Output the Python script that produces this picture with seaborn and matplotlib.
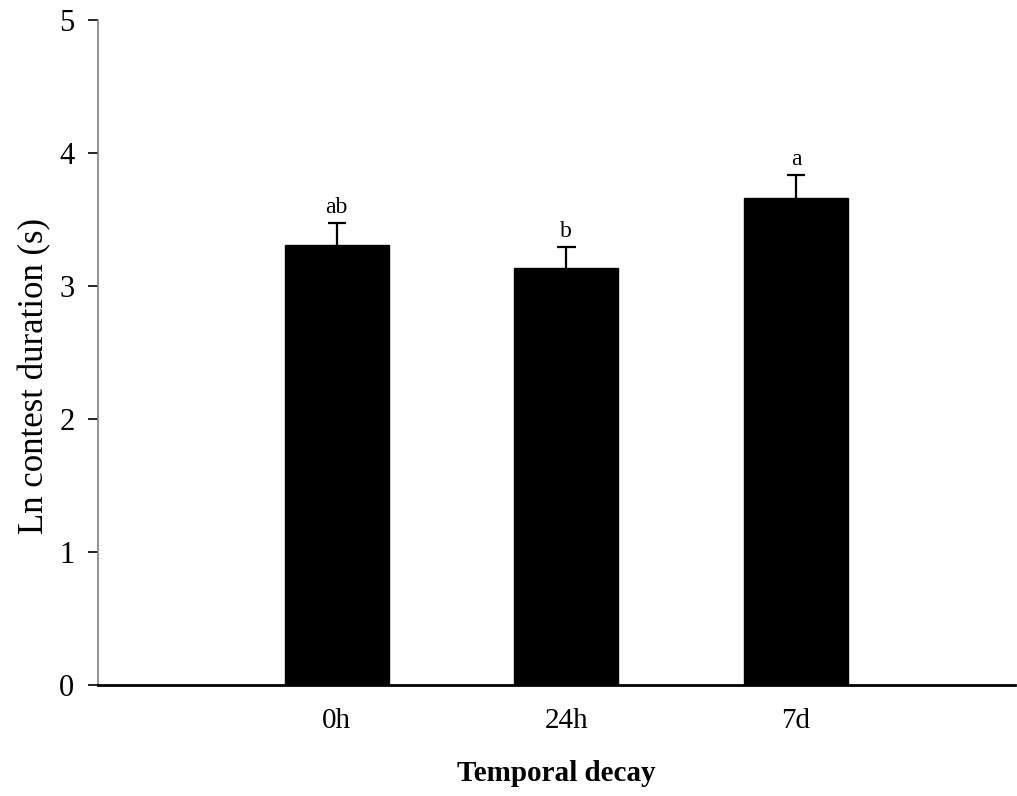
import matplotlib
matplotlib.use("Agg")
import matplotlib.pyplot as plt
import seaborn as sns
import pandas as pd

categories = ["0h", "24h", "7d"]
means = [3.31, 3.135, 3.665]
errors = [0.165, 0.155, 0.17]
letters = ["ab", "b", "a"]

sns.set_style("white")
plt.rcParams['font.family'] = ['Liberation Serif', 'DejaVu Serif']
plt.rcParams['text.color'] = 'black'
plt.rcParams['axes.labelcolor'] = 'black'
plt.rcParams['xtick.color'] = 'black'
plt.rcParams['ytick.color'] = 'black'

df = pd.DataFrame({"group": categories, "value": means})

fig = plt.figure(figsize=(10.17, 7.96), dpi=100)
ax = fig.add_axes([0.0964, 0.1394, 0.9016, 0.8355])

sns.barplot(data=df, x="group", y="value", order=categories, color="black",
            width=0.453, saturation=1, ax=ax, errorbar=None, edgecolor="black",
            zorder=2)

xs = list(range(len(categories)))
tops = [m + e for m, e in zip(means, errors)]
cap_half = 0.04
ax.vlines(xs, means, tops, color="black", linewidth=1.6, zorder=1)
ax.hlines(tops, [x - cap_half for x in xs], [x + cap_half for x in xs],
          color="black", linewidth=1.6, zorder=1)

for x, t, lab in zip(xs, tops, letters):
    ax.text(x, t + 0.04, lab, ha="center", va="bottom", fontsize=17)

ax.set_ylim(0, 5)
ax.set_xlim(-1.04, 2.954)
ax.set_yticks([0, 1, 2, 3, 4, 5])
ax.tick_params(axis="y", which="both", left=True, length=7, width=1.2,
               color="black", labelsize=22, pad=10)
ax.tick_params(axis="x", bottom=False, labelsize=21, pad=13)

for s in ["top", "right"]:
    ax.spines[s].set_visible(False)
ax.spines["left"].set_color("#808080")
ax.spines["left"].set_linewidth(1.2)
ax.spines["bottom"].set_color("black")
ax.spines["bottom"].set_linewidth(2)

ax.set_ylabel("Ln contest duration (s)", fontsize=25, labelpad=6, y=0.465)
ax.set_xlabel("Temporal decay", fontsize=21, fontweight="bold", labelpad=19)

fig.savefig("out.png", dpi=100)
